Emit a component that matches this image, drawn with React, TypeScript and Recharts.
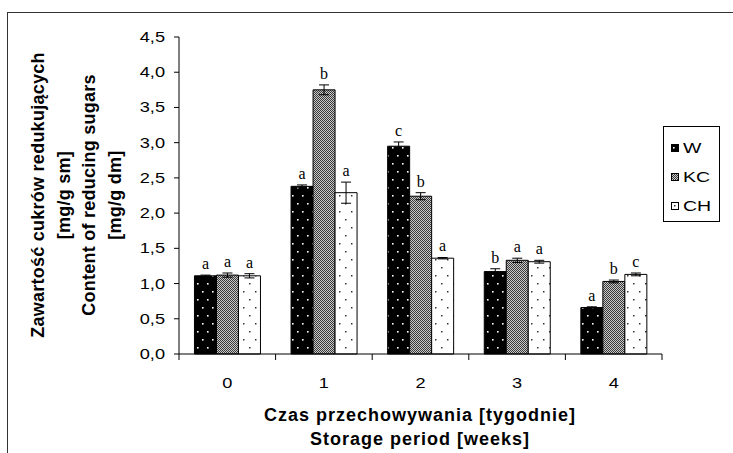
import React from 'react'
import { BarChart, Bar, XAxis, YAxis, ErrorBar, LabelList } from 'recharts'

const categories = ['0', '1', '2', '3', '4']
const wValues = [1.11, 2.38, 2.95, 1.17, 0.66]
const kcValues = [1.12, 3.75, 2.24, 1.33, 1.03]
const chValues = [1.11, 2.29, 1.36, 1.31, 1.13]
const wErrors = [0.01, 0.02, 0.06, 0.04, 0.01]
const kcErrors = [0.03, 0.07, 0.05, 0.03, 0.02]
const chErrors = [0.03, 0.15, 0.01, 0.02, 0.02]
const wLetters = ['a', 'a', 'c', 'b', 'a']
const kcLetters = ['a', 'b', 'b', 'a', 'b']
const chLetters = ['a', 'a', 'a', 'a', 'c']
const yTicks = [0, 0.5, 1, 1.5, 2, 2.5, 3, 3.5, 4, 4.5]
const seriesNames = ['W', 'KC', 'CH']

const data = categories.map((name, i) => ({
  name,
  W: wValues[i],
  KC: kcValues[i],
  CH: chValues[i],
  wErr: wErrors[i],
  kcErr: kcErrors[i],
  chErr: chErrors[i],
  wLetter: wLetters[i],
  kcLetter: kcLetters[i],
  chLetter: chLetters[i],
}))

const sans = "Arial, 'Liberation Sans', sans-serif"
const serif = "'Times New Roman', 'Liberation Serif', serif"
const fills: Record<string, string> = { W: 'url(#patW)', KC: 'url(#patKC)', CH: 'url(#patCH)' }

const YTick = (props: any) => {
  const { x, y, payload } = props
  const label = Number(payload.value).toFixed(1).replace('.', ',')
  return (
    <g transform={`translate(${x},${y})`}>
      <text transform="scale(1.3,1)" textAnchor="end" dy="0.36em" fontSize={14} fontFamily={sans} fill="#000">
        {label}
      </text>
    </g>
  )
}

const XTick = (props: any) => {
  const { x, y, payload, index, visibleTicksCount, width } = props
  const half = payload.offset ?? width / visibleTicksCount / 2
  const last = index === visibleTicksCount - 1
  return (
    <g>
      <line x1={x - half} x2={x - half} y1={y} y2={y + 6} stroke="#000" />
      {last && <line x1={x + half} x2={x + half} y1={y} y2={y + 6} stroke="#000" />}
      <g transform={`translate(${x},${y + 34})`}>
        <text transform="scale(1.3,1)" textAnchor="middle" fontSize={14} fontFamily={sans} fill="#000">
          {payload.value}
        </text>
      </g>
    </g>
  )
}

const letterLabel = (values: number[], errors: number[]) => (props: any) => {
  const vb = props.viewBox ?? {}
  const x = Number(props.x ?? vb.x)
  const y = Number(props.y ?? vb.y)
  const w = Number(props.width ?? vb.width)
  const h = Number(props.height ?? vb.height)
  const i = props.index ?? 0
  const perUnit = h / values[i]
  const top = y - errors[i] * perUnit
  return (
    <text x={x + w / 2} y={top - 6} textAnchor="middle" fontSize={16} fontFamily={serif} fill="#000">
      {props.value}
    </text>
  )
}

const Legend = () => (
  <div
    style={{
      position: 'absolute',
      left: 663,
      top: 126,
      width: 55,
      height: 94,
      border: '1px solid #000',
      background: '#fff',
    }}
  >
    {seriesNames.map((s, i) => (
      <div key={s} style={{ position: 'absolute', left: 7, top: 12 + i * 29, height: 18, display: 'flex', alignItems: 'center' }}>
        <svg width={8} height={8} style={{ display: 'block' }}>
          <rect x={0.5} y={0.5} width={7} height={7} fill={fills[s]} stroke="#000" />
        </svg>
        <span
          style={{
            marginLeft: 4,
            fontFamily: sans,
            fontSize: 15,
            display: 'inline-block',
            transform: 'scaleX(1.3)',
            transformOrigin: 'left center',
            lineHeight: '18px',
          }}
        >
          {s}
        </span>
      </div>
    ))}
  </div>
)

export default function App() {
  return (
    <div style={{ position: 'absolute', left: 0, top: 0, width: 733, height: 453, overflow: 'hidden', background: '#fff' }}>
      <div style={{ position: 'absolute', left: 7, top: 12, width: 760, height: 480, border: '1px solid #333' }} />
      <div style={{ position: 'absolute', left: 0, top: 0 }}>
        <BarChart
          width={733}
          height={453}
          data={data}
          margin={{ top: 37, right: 71, bottom: 98, left: 119 }}
          barCategoryGap="16%"
          barGap={0}
        >
          <defs>
            <pattern id="patW" width={10} height={16} patternUnits="userSpaceOnUse">
              <rect width={10} height={16} fill="#000" />
              <rect x={2} y={3} width={1.6} height={1.6} fill="#fff" />
              <rect x={7} y={11} width={1.6} height={1.6} fill="#fff" />
            </pattern>
            <pattern id="patKC" width={2} height={2} patternUnits="userSpaceOnUse">
              <rect width={2} height={2} fill="#c8c8c8" />
              <rect width={1} height={1} fill="#3a3a3a" />
              <rect x={1} y={1} width={1} height={1} fill="#3a3a3a" />
            </pattern>
            <pattern id="patCH" width={12} height={16} patternUnits="userSpaceOnUse">
              <rect width={12} height={16} fill="#fff" />
              <rect x={3} y={3} width={1.5} height={1.5} fill="#333" />
              <rect x={9} y={11} width={1.5} height={1.5} fill="#333" />
            </pattern>
          </defs>
          <XAxis
            dataKey="name"
            height={1}
            axisLine={{ stroke: '#000' }}
            tickLine={false}
            tickSize={0}
            tickMargin={0}
            tick={<XTick />}
            interval={0}
          />
          <YAxis
            width={60}
            domain={[0, 4.5]}
            ticks={yTicks}
            interval={0}
            axisLine={{ stroke: '#000' }}
            tickLine={{ stroke: '#000' }}
            tickSize={5}
            tickMargin={9}
            tick={<YTick />}
          />
          <Bar dataKey="W" fill={fills.W} stroke="#000" strokeWidth={1} isAnimationActive={false}>
            <ErrorBar dataKey="wErr" width={5} stroke="#000" strokeWidth={1} direction="y" />
            <LabelList dataKey="wLetter" content={letterLabel(wValues, wErrors)} />
          </Bar>
          <Bar dataKey="KC" fill={fills.KC} stroke="#000" strokeWidth={1} isAnimationActive={false}>
            <ErrorBar dataKey="kcErr" width={5} stroke="#000" strokeWidth={1} direction="y" />
            <LabelList dataKey="kcLetter" content={letterLabel(kcValues, kcErrors)} />
          </Bar>
          <Bar dataKey="CH" fill={fills.CH} stroke="#000" strokeWidth={1} isAnimationActive={false}>
            <ErrorBar dataKey="chErr" width={5} stroke="#000" strokeWidth={1} direction="y" />
            <LabelList dataKey="chLetter" content={letterLabel(chValues, chErrors)} />
          </Bar>
        </BarChart>
      </div>
      <div
        style={{
          position: 'absolute',
          left: 77 - 170,
          top: 195 - 51,
          width: 340,
          height: 102,
          transform: 'rotate(-90deg)',
          transformOrigin: 'center',
          textAlign: 'center',
          fontFamily: sans,
          fontWeight: 'bold',
          fontSize: 18,
          lineHeight: '25.5px',
          letterSpacing: 0.25,
          whiteSpace: 'nowrap',
        }}
      >
        <div>Zawartość cukrów redukujących</div>
        <div>[mg/g sm]</div>
        <div>Content of reducing sugars</div>
        <div>[mg/g dm]</div>
      </div>
      <div
        style={{
          position: 'absolute',
          left: 420 - 200,
          top: 403,
          width: 400,
          textAlign: 'center',
          fontFamily: sans,
          fontWeight: 'bold',
          fontSize: 18,
          lineHeight: '24px',
          letterSpacing: 1,
          whiteSpace: 'nowrap',
        }}
      >
        <div>Czas przechowywania [tygodnie]</div>
        <div>Storage period [weeks]</div>
      </div>
      <Legend />
    </div>
  )
}
